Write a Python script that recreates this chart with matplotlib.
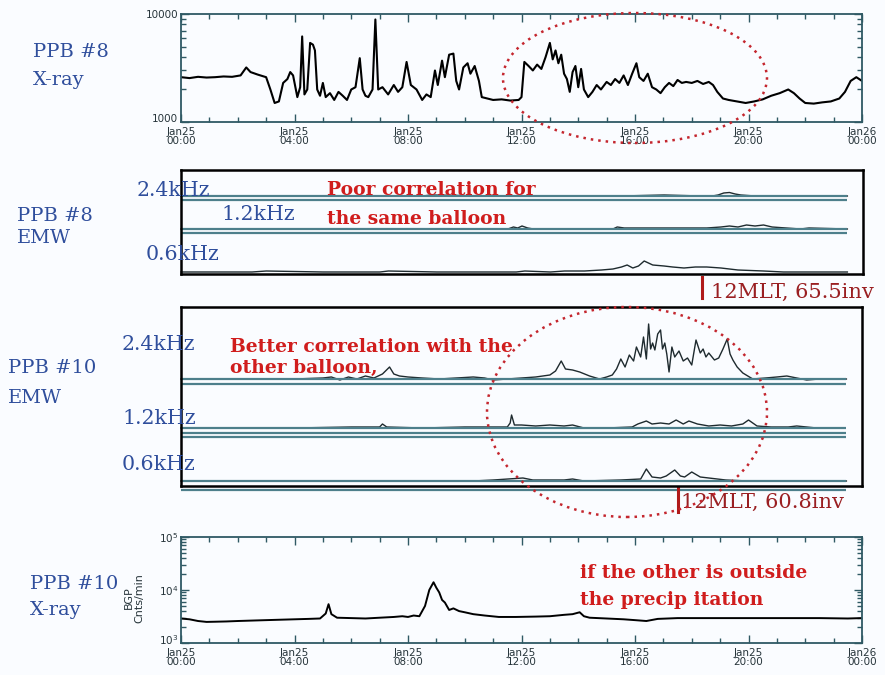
import numpy as np
import matplotlib
matplotlib.use('Agg')
import matplotlib.pyplot as plt
from matplotlib.patches import Ellipse
from matplotlib.ticker import LogLocator, NullFormatter
from matplotlib.transforms import ScaledTranslation

W, H = 885, 675

# ---- data, hours after Jan25 00:00 ----
tick_hours = [0, 4, 8, 12, 16, 20, 24]
tick_labels = ['Jan25\n00:00', 'Jan25\n04:00', 'Jan25\n08:00', 'Jan25\n12:00',
               'Jan25\n16:00', 'Jan25\n20:00', 'Jan26\n00:00']

ppb8_xray_hours = [
    0.0, 0.3, 0.6, 0.9, 1.2, 1.5, 1.8, 2.1, 2.3, 2.45,
    2.7, 3.0, 3.15, 3.3, 3.45, 3.6, 3.75, 3.85, 3.95, 4.1,
    4.2, 4.27, 4.35, 4.45, 4.55, 4.65, 4.72, 4.8, 4.9, 5.0,
    5.1, 5.25, 5.4, 5.55, 5.7, 5.85, 6.0, 6.15, 6.3, 6.4,
    6.5, 6.6, 6.75, 6.85, 6.95, 7.1, 7.3, 7.5, 7.65, 7.8,
    7.95, 8.1, 8.3, 8.5, 8.65, 8.8, 8.95, 9.05, 9.2, 9.3,
    9.45, 9.6, 9.7, 9.8, 9.95, 10.1, 10.2, 10.35, 10.5, 10.6,
    10.8, 11.0, 11.3, 11.6, 11.9, 12.0, 12.1, 12.25, 12.4, 12.55,
    12.7, 12.85, 13.0, 13.1, 13.2, 13.3, 13.4, 13.5, 13.6, 13.7,
    13.8, 13.9, 14.0, 14.1, 14.2, 14.35, 14.5, 14.65, 14.8, 15.0,
    15.15, 15.3, 15.45, 15.6, 15.75, 15.9, 16.05, 16.15, 16.3, 16.45,
    16.6, 16.75, 16.9, 17.05, 17.2, 17.35, 17.5, 17.65, 17.8, 18.0,
    18.2, 18.4, 18.6, 18.75, 18.9, 19.1, 19.3, 19.6, 19.9, 20.2,
    20.5, 20.8, 21.1, 21.4, 21.6, 21.8, 22.0, 22.3, 22.6, 22.9,
    23.2, 23.4, 23.6, 23.8, 24.0]
ppb8_xray_counts = [
    2600, 2550, 2620, 2580, 2600, 2640, 2620, 2700, 3200, 2900,
    2750, 2600, 2000, 1500, 1550, 2300, 2500, 2900, 2700, 1700,
    2100, 6200, 1800, 2000, 5400, 5200, 4600, 2000, 1750, 2300,
    1700, 1850, 1600, 1900, 1750, 1600, 2000, 2100, 3900, 2000,
    1750, 1700, 2000, 8900, 2000, 2100, 1800, 2200, 1900, 2100,
    3600, 2200, 2000, 1600, 1800, 1700, 3000, 2200, 3700, 2600,
    4200, 4300, 2400, 2000, 3200, 3500, 2800, 3300, 2400, 1700,
    1650, 1600, 1620, 1580, 1600, 1700, 3600, 3300, 3000, 3400,
    3100, 4000, 5400, 3800, 4600, 3500, 4200, 2800, 2500, 1900,
    2900, 3300, 2100, 3100, 2000, 1700, 1900, 2200, 2000, 2350,
    2200, 2500, 2300, 2700, 2200, 2800, 3500, 2600, 2400, 2800,
    2100, 2000, 1850, 2100, 2300, 2150, 2450, 2300, 2350, 2300,
    2400, 2250, 2350, 2200, 1900, 1650, 1600, 1550, 1500, 1550,
    1620, 1750, 1850, 2000, 1850, 1650, 1500, 1480, 1520, 1550,
    1650, 1900, 2400, 2600, 2400]

ppb10_xray_hours = [
    0.0, 0.3, 0.6, 0.9, 1.2, 1.6, 2.0, 2.5, 3.0, 3.5,
    4.0, 4.5, 4.9, 5.1, 5.2, 5.3, 5.5, 6.0, 6.5, 7.0,
    7.5, 7.8, 8.0, 8.2, 8.4, 8.6, 8.75, 8.9, 9.0, 9.1,
    9.2, 9.3, 9.45, 9.6, 9.8, 10.0, 10.3, 10.7, 11.2, 11.8,
    12.5, 13.0, 13.5, 13.8, 14.05, 14.2, 14.4, 15.0, 15.6, 16.0,
    16.4, 16.8, 17.5, 18.5, 19.5, 20.5, 21.5, 22.5, 23.5, 24.0]
ppb10_xray_counts = [
    2900, 2800, 2600, 2500, 2520, 2550, 2600, 2650, 2700, 2750,
    2800, 2850, 2900, 3600, 5400, 3500, 3000, 2950, 2900, 3000,
    3100, 3200, 3100, 3300, 3200, 5000, 10000, 14000, 11000, 9000,
    6500, 5800, 4200, 4500, 4000, 3800, 3500, 3300, 3100, 3100,
    3150, 3200, 3400, 3500, 3800, 3200, 3000, 2900, 2800, 2700,
    2600, 2850, 2950, 2950, 2950, 2950, 2950, 2950, 2900, 2950]

# EMW traces: amplitude above each channel baseline (arbitrary units ~ pixels)
ppb8_24_hours = [0, 3, 6, 8.5, 8.8, 11, 13.5, 15.5, 17.0, 18.3,
                 18.7, 18.9, 19.1, 19.3, 19.5, 19.7, 20.2, 22, 23.45]
ppb8_24_amp = [0, 0, 0, 0, 1, 0, 0, 0, 1, 0,
               0, 1, 3, 3.5, 2, 1, 0, 0, 0]
ppb8_12_hours = [0, 3, 6, 8, 11.5, 11.7, 11.85, 12.0, 12.2, 12.4,
                 14.0, 15.2, 15.35, 15.6, 17.0, 18.5, 19.0, 19.3, 19.6, 19.9,
                 20.2, 20.5, 20.8, 21.3, 21.8, 22.1, 23.45]
ppb8_12_amp = [0, 0, 0, 0, 0, 2, 1, 3, 1, 0,
               0, 0, 2, 1, 1, 1, 2, 3, 2, 4,
               3, 4, 2, 1, 0, 1, 0]
ppb8_06_hours = [0, 2.5, 3.0, 5.0, 7.0, 7.3, 9.0, 11.8, 12.1, 13.0,
                 13.5, 14.2, 14.8, 15.2, 15.5, 15.7, 15.9, 16.1, 16.3, 16.6,
                 17.0, 17.3, 17.7, 18.1, 18.5, 19.0, 19.6, 20.5, 21.2, 23.45]
ppb8_06_amp = [0, 0, 1, 0, 0, 1, 0, 0, 1, 0,
               1, 1, 2, 3, 5, 7, 4, 6, 11, 7,
               6, 5, 4, 5, 5, 4, 2, 1, 0, 0]

ppb10_24_hours = [
    0, 1, 2, 3, 4, 5, 5.3, 5.6, 5.9, 6.2,
    6.5, 6.8, 7.1, 7.35, 7.5, 7.7, 8.0, 8.5, 9.1, 9.7,
    10.3, 10.7, 11.0, 11.5, 12.0, 12.5, 13.0, 13.2, 13.4, 13.55,
    13.8, 14.05, 14.4, 14.75, 15.0, 15.2, 15.35, 15.5, 15.65, 15.8,
    15.95, 16.05, 16.2, 16.3, 16.4, 16.48, 16.55, 16.62, 16.7, 16.8,
    16.9, 16.97, 17.05, 17.12, 17.2, 17.3, 17.4, 17.55, 17.7, 17.85,
    18.0, 18.15, 18.3, 18.4, 18.5, 18.6, 18.8, 18.95, 19.1, 19.25,
    19.35, 19.45, 19.6, 19.8, 20.15, 20.6, 21.0, 21.35, 21.7, 22.05,
    22.5, 23.0, 23.45]
ppb10_24_amp = [
    0, 0, 0, 0, 0, 1, 2, -1, 2, 0,
    3, 1, 5, 12, 5, 3, 2, 1, 0, 1,
    2, 1, -1, 0, 1, 2, 4, 8, 18, 10,
    9, 7, 3, 0, 2, 4, 10, 20, 12, 24,
    18, 32, 22, 42, 20, 55, 30, 36, 29, 45,
    49, 30, 36, 25, 7, 32, 22, 28, 18, 21,
    14, 39, 26, 30, 22, 26, 19, 21, 30, 40,
    25, 19, 12, 6, 0, 1, 2, 3, 1, -1,
    0, 0, 0]
ppb10_12_hours = [0, 2, 4, 6, 7.0, 7.1, 7.25, 8.5, 10, 11.5,
                  11.6, 11.65, 11.75, 12.0, 12.5, 13.0, 13.5, 13.8, 14.2, 15.0,
                  15.9, 16.1, 16.4, 16.6, 16.9, 17.2, 17.45, 17.7, 17.9, 18.2,
                  18.6, 19.0, 19.4, 19.8, 20.0, 20.3, 20.8, 21.4, 21.7, 22.4]
ppb10_12_amp = [0, 0, 0, 1, 1, 4, 1, 0, 1, 1,
                5, 13, 3, 3, 2, 3, 2, 3, 0, 0,
                1, 4, 7, 4, 5, 4, 8, 4, 7, 4,
                2, 3, 2, 4, 8, 2, 1, 1, 2, 0]
ppb10_06_hours = [0, 5, 10.3, 11, 12.05, 12.4, 13.5, 13.8, 14.2, 15.5,
                  16.2, 16.4, 16.6, 16.9, 17.1, 17.4, 17.6, 17.75, 18.0, 18.3,
                  18.6, 19.2, 20.0, 21.5, 23.45]
ppb10_06_amp = [0, 0, 0, 1, 3, 1, 1, 2, 0, 1,
                2, 12, 4, 3, 5, 11, 5, 4, 9, 4,
                3, 1, 0, 0, 0]

mlt_noon_hours = [18.35, 17.5]   # 12 MLT markers for PPB #8 and PPB #10

# ---- style ----
BG = '#fafcff'
AXCOL = '#2f5964'
TICKTXT = '#26343a'
TRACE = '#1e2a2e'
BASE = '#4d7f8b'
BLUE = '#2f4e9c'
RED = '#d01d1d'
DKRED = '#9a1f22'
SERIF = 'DejaVu Serif'

plt.rcParams['font.family'] = 'DejaVu Sans'


def fx(px):
    return px / W


def fy(py):
    return 1 - py / H


def axes_px(fig, x0, y0, x1, y1):
    return fig.add_axes([fx(x0), fy(y1), (x1 - x0) / W, (y1 - y0) / H])


def style_xray(fig, ax, ylim, yticks, ylabels):
    ax.set_facecolor(BG)
    ax.set_yscale('log')
    ax.set_xlim(0, 24)
    ax.set_ylim(*ylim)
    ax.set_xticks(tick_hours)
    ax.set_xticklabels(tick_labels, linespacing=0.85)
    ax.set_xticks(np.arange(0, 25, 1), minor=True)
    ax.set_yticks(yticks)
    ax.set_yticklabels(ylabels)
    ax.yaxis.set_minor_locator(LogLocator(base=10, subs=np.arange(2, 10)))
    ax.yaxis.set_minor_formatter(NullFormatter())
    ax.tick_params(which='both', direction='in', top=True, right=True,
                   color=AXCOL, labelcolor=TICKTXT, labelsize=7.5, width=1)
    ax.tick_params(axis='x', pad=3.5)
    ax.tick_params(axis='y', pad=2)
    ax.tick_params(which='major', length=6)
    ax.tick_params(which='minor', length=3.5)
    # bottom y label sits a little above the corner, as in the original
    lbl = ax.get_yticklabels()[0]
    lbl.set_transform(lbl.get_transform() + ScaledTranslation(0, 4 / 100, fig.dpi_scale_trans))
    for s in ax.spines.values():
        s.set_color(AXCOL)
        s.set_linewidth(1.3)


def style_emw(ax, height):
    ax.set_facecolor(BG)
    ax.set_xlim(0, 24)
    ax.set_ylim(0, height)
    ax.set_xticks([])
    ax.set_yticks([])
    for s in ax.spines.values():
        s.set_color('black')
        s.set_linewidth(1.8)


def trace(ax, hours, amp, base, end=23.45, lines=()):
    ax.plot(hours, base + np.array(amp), color=TRACE, lw=1.0, clip_on=False)
    for y in lines:
        ax.hlines(y, 0, end, color=BASE, lw=1.6, clip_on=False)


fig = plt.figure(figsize=(W / 100, H / 100), dpi=100, facecolor=BG)

# panel 1: PPB #8 X-ray
ax1 = axes_px(fig, 181, 14, 862, 122)
style_xray(fig, ax1, (1000, 10000), [1000, 10000], ['1000', '10000'])
ax1.plot(ppb8_xray_hours, ppb8_xray_counts, color='black', lw=1.5)

# panel 2: PPB #8 EMW
ax2 = axes_px(fig, 181, 170, 863, 274)
style_emw(ax2, 104)
trace(ax2, ppb8_24_hours, ppb8_24_amp, 78, lines=[78, 74])
trace(ax2, ppb8_12_hours, ppb8_12_amp, 45, lines=[45, 41])
trace(ax2, ppb8_06_hours, ppb8_06_amp, 2)
ax2.plot([mlt_noon_hours[0]] * 2, [-0.03, -0.23], color='#b01a1a', lw=2.2,
         transform=ax2.get_xaxis_transform(), clip_on=False)

# panel 3: PPB #10 EMW
ax3 = axes_px(fig, 181, 307, 862, 486)
style_emw(ax3, 179)
trace(ax3, ppb10_24_hours, ppb10_24_amp, 107, lines=[107, 102])
trace(ax3, ppb10_12_hours, ppb10_12_amp, 58, lines=[58, 53, 49])
trace(ax3, ppb10_06_hours, ppb10_06_amp, 5, lines=[5, -4])
ax3.plot([mlt_noon_hours[1]] * 2, [-0.01, -0.145], color='#b01a1a', lw=2.2,
         transform=ax3.get_xaxis_transform(), clip_on=False)

# panel 4: PPB #10 X-ray
ax4 = axes_px(fig, 181, 537, 862, 643)
style_xray(fig, ax4, (1e3, 1e5), [1e3, 1e4, 1e5],
           [r'$10^3$', r'$10^4$', r'$10^5$'])
ax4.plot(ppb10_xray_hours, ppb10_xray_counts, color='black', lw=1.4)
fig.text(fx(134), fy(598), 'BGP\nCnts/min', rotation=90, ha='center',
         va='center', fontsize=8, color=TICKTXT, linespacing=1.0)

# left-hand panel names
for px, py, s in [(33, 52, 'PPB #8'), (33, 80, 'X-ray'),
                  (17, 216, 'PPB #8'), (17, 238, 'EMW'),
                  (8, 368, 'PPB #10'), (8, 398, 'EMW'),
                  (30, 584, 'PPB #10'), (30, 610, 'X-ray')]:
    fig.text(fx(px), fy(py), s, ha='left', va='center', fontsize=14,
             family=SERIF, color=BLUE)

# channel labels
for px, py, s in [(137, 191, '2.4kHz'), (221, 215, '1.2kHz'), (146, 255, '0.6kHz'),
                  (122, 345, '2.4kHz'), (122, 418, '1.2kHz'), (122, 465, '0.6kHz')]:
    fig.text(fx(px), fy(py), s, ha='left', va='center', fontsize=14.8,
             family=SERIF, color=BLUE)

# red notes
for px, py, s in [(327, 190, 'Poor correlation for'), (327, 219, 'the same balloon'),
                  (230, 347, 'Better correlation with the'), (230, 368, 'other balloon,'),
                  (580, 573, 'if the other is outside'), (580, 600, 'the precip itation')]:
    fig.text(fx(px), fy(py), s, ha='left', va='center', fontsize=13.5,
             family=SERIF, weight='bold', color=RED)

fig.text(fx(711), fy(292), '12MLT, 65.5inv', ha='left', va='center', fontsize=15,
         family=SERIF, color=DKRED)
fig.text(fx(681), fy(502), '12MLT, 60.8inv', ha='left', va='center', fontsize=15,
         family=SERIF, color=DKRED)

# dotted ellipses marking the events
for cx, cy, w, h in [(635, 78, 264, 130), (627, 412, 280, 210)]:
    fig.add_artist(Ellipse((fx(cx), fy(cy)), w / W, h / H, transform=fig.transFigure,
                           fill=False, ec='#c4262e', ls=(0, (1, 2)), lw=1.8, zorder=5))

fig.savefig('out.png', dpi=100, facecolor=BG)
